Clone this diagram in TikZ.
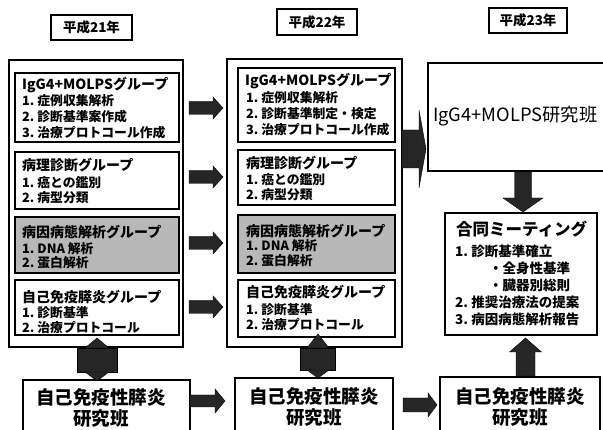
\documentclass[tikz,border=0pt]{standalone}
\usepackage{fontspec}
\setmainfont{Noto Sans CJK JP}
\begin{document}
\begin{tikzpicture}[x=1pt,y=-1pt,
  box/.style={draw, line width=1.4pt, inner sep=0pt, outer sep=0pt, anchor=north west},
  graybox/.style={box, fill=black!28},
  ttl/.style={anchor=west, inner sep=0pt, font=\fontsize{14}{14}\selectfont\bfseries},
  itm/.style={anchor=west, inner sep=0pt, font=\fontsize{12.8}{12.8}\selectfont\bfseries},
  big/.style={anchor=center, inner sep=0pt, align=center, font=\fontsize{18.5}{20.5}\selectfont\bfseries},
  yr/.style={draw, line width=1.1pt, inner sep=0pt, outer sep=0pt, font=\fontsize{13.5}{13.5}\selectfont\bfseries},
  blk/.style={fill=black!85, draw=black, line width=0.4pt}]
\useasboundingbox (0,0) rectangle (603,430);
\clip (0,0) rectangle (603,430);
\fill[white] (0,0) rectangle (603,430);
\newcommand\hblk[6]{\filldraw[blk] (#1,#4-#5) -- (#2,#4-#5) -- (#2,#4-#6) -- (#3,#4) -- (#2,#4+#6) -- (#2,#4+#5) -- (#1,#4+#5) -- cycle;}
\newcommand\vblk[6]{\filldraw[blk] (#4-#5,#1) -- (#4-#5,#2) -- (#4-#6,#2) -- (#4,#3) -- (#4+#6,#2) -- (#4+#5,#2) -- (#4+#5,#1) -- cycle;}

% year labels
\node[yr, minimum width=81pt, minimum height=25pt] (y1) at (91.5,27.5) {平成21年};
\node[yr, minimum width=80pt, minimum height=26pt] (y2) at (317,22) {平成22年};
\node[yr, minimum width=78pt, minimum height=25pt] (y3) at (528,20.5) {平成23年};

% column 1
\node[box, minimum width=174pt, minimum height=287pt] (o1) at (9,60) {};
\node[box, minimum width=164pt, minimum height=69pt] (a1) at (15,73) {};
\node[box, minimum width=164pt, minimum height=57pt] (b1) at (15,152) {};
\node[graybox, minimum width=164pt, minimum height=56pt] (c1) at (15,217) {};
\node[box, minimum width=164pt, minimum height=55pt] (d1) at (15,280) {};
\node[ttl] (a1t) at (22,85) {IgG4+MOLPSグループ};
\node[itm] (a1i) at (22,101) {1.\ 症例収集解析};
\node[itm] (a1j) at (22,117) {2.\ 診断基準案作成};
\node[itm] (a1k) at (22,133) {3.\ 治療プロトコール作成};
\node[ttl] (b1t) at (22,165) {病理診断グループ};
\node[itm] (b1i) at (22,183) {1.\ 癌との鑑別};
\node[itm] (b1j) at (22,198) {2.\ 病型分類};
\node[ttl] (c1t) at (22,232) {病因病態解析グループ};
\node[itm] (c1i) at (22,249) {1.\ DNA 解析};
\node[itm] (c1j) at (22,263) {2.\ 蛋白解析};
\node[ttl] (d1t) at (22,297) {自己免疫膵炎グループ};
\node[itm] (d1i) at (22,313) {1.\ 診断基準};
\node[itm] (d1j) at (22,328) {2.\ 治療プロトコール};

% column 2
\node[box, minimum width=175pt, minimum height=288pt] (o2) at (227,59) {};
\node[box, minimum width=157pt, minimum height=74pt] (a2) at (238,68) {};
\node[box, minimum width=157pt, minimum height=55pt] (b2) at (238,150) {};
\node[graybox, minimum width=157pt, minimum height=58pt] (c2) at (238,215) {};
\node[box, minimum width=157pt, minimum height=57pt] (d2) at (238,280) {};
\node[ttl] (a2t) at (245,81) {IgG4+MOLPSグループ};
\node[itm] (a2i) at (246,98) {1.\ 症例収集解析};
\node[itm] (a2j) at (246,114) {2.\ 診断基準制定・検定};
\node[itm] (a2k) at (246,130) {3.\ 治療プロトコール作成};
\node[ttl] (b2t) at (246,163) {病理診断グループ};
\node[itm] (b2i) at (246,180) {1.\ 癌との鑑別};
\node[itm] (b2j) at (246,195) {2.\ 病型分類};
\node[ttl] (c2t) at (246,231) {病因病態解析グループ};
\node[itm] (c2i) at (246,246) {1.\ DNA 解析};
\node[itm] (c2j) at (246,261) {2.\ 蛋白解析};
\node[ttl] (d2t) at (246,292) {自己免疫膵炎グループ};
\node[itm] (d2i) at (246,310) {1.\ 診断基準};
\node[itm] (d2j) at (246,325) {2.\ 治療プロトコール};

% column 3
\node[box, minimum width=190pt, minimum height=108pt] (g3) at (428,63) {};
\node[anchor=west, inner sep=0pt, font=\fontsize{18.3}{18.3}\selectfont] (g3t) at (433,116) {IgG4+MOLPS研究班};
\node[box, minimum width=152pt, minimum height=122pt] (m3) at (445,213) {};
\node[anchor=west, inner sep=0pt, font=\fontsize{16.5}{16.5}\selectfont\bfseries] (m3t) at (456,229) {合同ミーティング};
\node[itm, font=\fontsize{13.5}{13.5}\selectfont\bfseries] (m3a) at (455,251) {1.\ 診断基準確立};
\node[itm, font=\fontsize{13.5}{13.5}\selectfont\bfseries] (m3b) at (489,268) {・全身性基準};
\node[itm, font=\fontsize{13.5}{13.5}\selectfont\bfseries] (m3c) at (489,285) {・臓器別総則};
\node[itm, font=\fontsize{13.5}{13.5}\selectfont\bfseries] (m3d) at (455,302) {2.\ 推奨治療法の提案};
\node[itm, font=\fontsize{13.5}{13.5}\selectfont\bfseries] (m3e) at (455,319) {3.\ 病因病態解析報告};

% bottom boxes
\node[box, minimum width=167pt, minimum height=60pt] (p1) at (23,380) {};
\node[box, minimum width=158pt, minimum height=60pt] (p2) at (235,378) {};
\node[box, minimum width=160pt, minimum height=60pt] (p3) at (440,377) {};
\node[big] (p1t) at (101,408) {自己免疫性膵炎\\研究班};
\node[big] (p2t) at (314,407) {自己免疫性膵炎\\研究班};
\node[big] (p3t) at (520,407) {自己免疫性膵炎\\研究班};

% block arrows col1 -> col2
\hblk{189}{213}{223}{108}{6.5}{11}
\hblk{189}{213}{223}{177}{6.5}{11}
\hblk{189}{213}{223}{243}{6.5}{11}
\hblk{189}{213}{223}{307}{6.5}{11}
% big arrow col2 -> col3
\hblk{402}{419}{426}{149}{19}{39}
% bottom arrows
\hblk{190}{215}{225}{401}{6}{12}
\hblk{403}{428}{437}{405}{7}{12}
% col3 vertical arrows
\vblk{172}{198}{212}{523}{8.5}{20}
\vblk{376}{352}{338}{525.5}{9.5}{16}
% double arrows under columns 1 and 2
\filldraw[blk] (77,348) rectangle (117,372);
\filldraw[blk] (85,348) -- (97,338) -- (109,348) -- cycle;
\filldraw[blk] (85,372) -- (97,381) -- (109,372) -- cycle;
\filldraw[blk] (300,348) rectangle (335,370);
\filldraw[blk] (307,348) -- (318,334) -- (329,348) -- cycle;
\filldraw[blk] (307,370) -- (318,378) -- (329,370) -- cycle;
\end{tikzpicture}
\end{document}
